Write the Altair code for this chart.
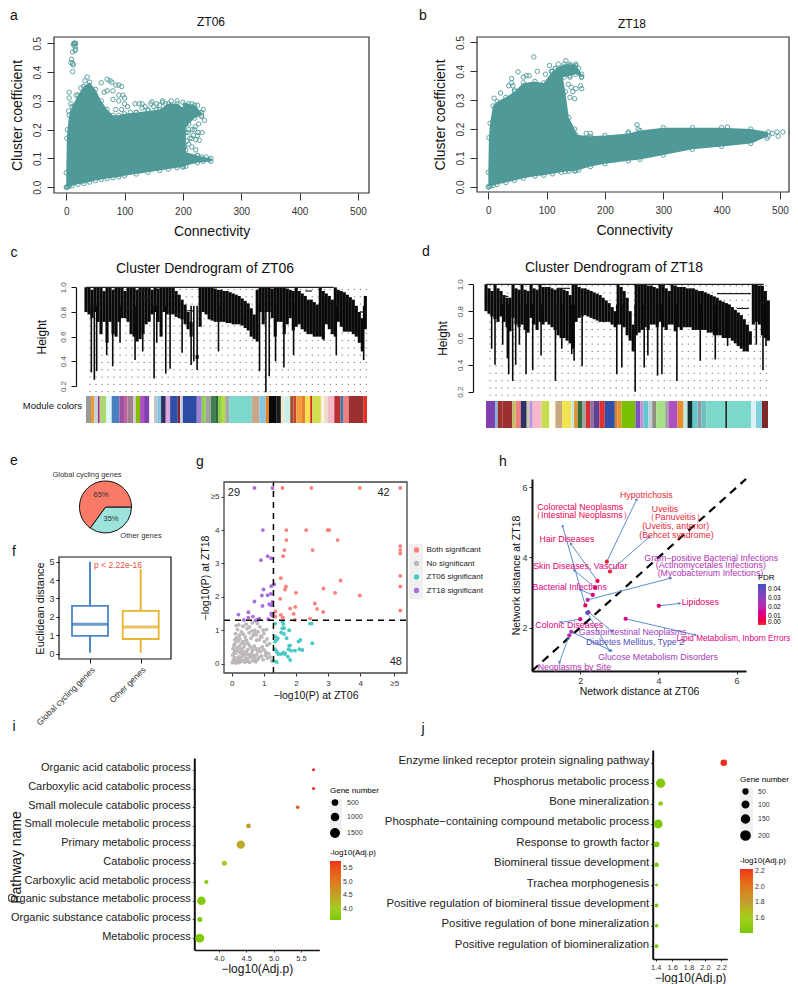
import math
import altair as alt
import pandas as pd

FONT = "Liberation Sans"
W, H = 782, 976
TEAL = "#4f9a98"
one = alt.Data(values=[{"k": 0}])

# ---------- panel a (ZT06) ----------
a_regions = {
    "main": ([0,1,2,5,10,20,30,40,50,60,70,80,90,100,120,140,160,175,190,205],
             [.05,.17,.2,.25,.28,.32,.35,.365,.34,.3,.27,.25,.25,.255,.26,.265,.27,.29,.29,.27],
             [0,0,.002,.003,.005,.01,.013,.018,.023,.027,.03,.033,.036,.04,.046,.052,.058,.063,.068,.073]),
    "blob": ([200,210,220,232], [.295,.29,.285,.26], [.19,.22,.24,.25]),
    "band": ([200,225,248], [.125,.11,.1], [.073,.085,.09]),
}
a_x = [13,14,15,16,12,15,16,15,11,9,11,8,12,11,5,5,8,4,17,25,32,36,60,70,75,78,85,90,95,65,70,80,90,97,100,80,90,100,105,95,85,118,125,130,147,165,180,190,215,225,235,237,232,227,233,225,222,228,215,205,200,195,190,185,210,220,245,240,232,225,235,200,215,
       205,210,215,218,222,212,207,203,209,216,221,226,190,195,200,150,155,160,165,170,175,180,140,130,120,110,135,145,155]
a_y = [.5,.5,.5,.5,.495,.49,.48,.475,.47,.445,.43,.433,.425,.402,.33,.31,.29,.265,.32,.345,.37,.383,.363,.375,.37,.365,.355,.355,.35,.33,.335,.335,.32,.32,.31,.305,.3,.29,.28,.27,.27,.29,.29,.29,.297,.3,.3,.3,.29,.285,.27,.232,.245,.22,.19,.18,.165,.163,.17,.19,.16,.15,.14,.17,.2,.2,.095,.105,.105,.11,.09,.07,.1,
       .13,.15,.14,.18,.13,.17,.16,.14,.19,.2,.21,.19,.28,.27,.26,.28,.29,.285,.295,.29,.28,.285,.27,.275,.26,.26,.28,.29,.27]

# ---------- panel b (ZT18) ----------
b_regions = {
    "main": ([0,1,3,8,15,30,45,60,80,95,110,125,132,138,148,155],
             [.05,.17,.22,.28,.295,.31,.33,.36,.365,.36,.4,.41,.33,.24,.2,.17],
             [0,0,.002,.004,.008,.015,.022,.03,.037,.04,.045,.05,.053,.054,.055,.058]),
    "band": ([150,175,200,240,260,300,350,400,450,480],
             [.18,.175,.178,.185,.195,.205,.205,.205,.2,.19],
             [.056,.07,.08,.09,.095,.11,.13,.14,.15,.175]),
    "top": ([115,130,140,150,160], [.41,.425,.425,.425,.39], [.37,.38,.385,.39,.38]),
}
b_x = [78,51,84,70,65,60,40,40,35,10,21,42,45,105,120,133,115,98,108,130,140,150,155,160,158,150,145,137,148,160,142,140,130,140,255,257,240,168,175,505,497,495,478,487,520,455,418,430,410]
b_y = [.45,.398,.4,.385,.385,.38,.375,.36,.35,.307,.325,.35,.335,.42,.425,.437,.41,.39,.4,.41,.42,.42,.41,.38,.35,.34,.33,.355,.305,.34,.345,.31,.28,.38,.215,.2,.19,.185,.185,.19,.175,.19,.168,.185,.187,.163,.153,.165,.207]

# ---------- dendrograms ----------
c_top = [1,1,.98,1,1,1,.97,1,1,.98,1,1,1,.97,1,1,1,.98,1,1,1,1,.98,1,.99,1,1,1,1,
         1,.97,.94,.9,.86,.8,.72,.55,.42,
         1,1,1,1,1,.99,.98,.98,.97,.97,.96,.95,.94,.93,.91,.89,.87,.83,.78,
         .98,1,1,1,1,.99,1,1,1,1,.99,.98,.97,1,.97,.95,.93,.9,.9,.88,.86,1,.97,.95,.93,.9,1,.98,.97,.96,.94,.92,.9,.85,.8,.75,.93]
c_base = [.8,.78,.75,.8,.72,.62,.72,.55,.72,.62,.6,.72,.75,.75,.72,.62,.6,.56,.58,.62,.7,.72,.78,.8,.72,.6,.8,.78,.78,
          .78,.76,.75,.74,.7,.66,.6,.55,.45,
          .68,.8,.78,.74,.73,.72,.72,.72,.72,.71,.71,.7,.7,.7,.69,.67,.65,.6,.58,
          .56,.8,.7,.8,.8,.75,.6,.72,.72,.62,.7,.75,.65,.68,.7,.66,.64,.62,.62,.6,.6,.6,.58,.7,.66,.62,.6,.72,.68,.64,.64,.64,.62,.6,.55,.48,.66]
c_spike_x = [16,25,32,62,80,102,147,170,204,212,239,252,288,315,323,333,397,520,539,549,568,593,622,750,832,712]
c_spike_y = [.31,.25,.32,.45,.36,.55,.41,.48,.26,.55,.3,.34,.47,.37,.4,.33,.48,.32,.15,.28,.4,.35,.45,.45,.41,.57]
c_link_x = [0,147,147,302,657,822]
c_link_x2 = [742,177,192,320,677,842]
c_link_y = [1.0,.97,.92,.81,.97,.8]

d_top = [1,.97,.95,1,.97,.95,.92,.9,.9,1,.97,.96,1,.96,.95,1,.97,.96,1,.98,.98,.98,.97,.96,.97,.97,.96,.95,.92,1,
         1,.98,.97,.97,.96,.95,.94,.93,.92,.9,.88,.86,.83,.8,
         1,.98,.95,.9,.8,.7,1,1,1,1,.99,.99,.98,.97,1,1,.97,.95,1,.99,.98,.98,.98,.97,.97,.97,.96,.95,.95,.94,.93,.92,.91,.9,.88,.87,.86,.85,.83,.81,.79,.77,.74,.7,.65,1,1,.99,.99,.95,.88]
d_base = [.8,.78,.76,.74,.72,.76,.72,.68,.65,.75,.7,.68,.7,.66,.64,.75,.7,.66,.72,.7,.72,.7,.68,.66,.62,.6,.6,.58,.56,.52,
          .72,.75,.76,.77,.76,.75,.74,.73,.72,.72,.72,.72,.7,.68,
          .7,.7,.68,.62,.58,.5,.62,.64,.66,.68,.66,.7,.7,.68,.72,.68,.66,.7,.7,.65,.68,.66,.68,.68,.68,.66,.66,.66,.66,.66,.64,.64,.62,.62,.62,.6,.6,.6,.58,.56,.54,.52,.5,.5,.55,.7,.72,.7,.62,.6,.58]
d_spike_x = [17,27,50,64,68,80,89,100,120,140,165,208,227,257,264,288,392,407,447,474,485,514,527,572,642,687,724,810,830,839]
d_spike_y = [.52,.4,.55,.45,.33,.28,.4,.55,.33,.36,.47,.28,.52,.48,.43,.39,.33,.38,.2,.38,.47,.32,.33,.28,.43,.44,.54,.55,.36,.54]
d_link_x = [0,27,102,212,692,752]
d_link_x2 = [832,67,122,252,794,787]
d_link_y = [1.0,.91,.95,.97,.93,.82]

c_seg_w = [15,9,12,5,19,17,23,14,10,18,7,13,12,16,14,10,11,14,13,23,7,8,42,15,12,15,13,10,10,10,12,68,23,18,10,22,14,10,18,10,8,17,10,15,6,26,10,10,20,18,10,15,45,10]
c_seg_c = ["#9a9a9a","#f29a2e","#c8d0d8","#a020a0","#b0d870","#e0f8f8","#4a80c0","#a050a0","#c060a0","#a08090","#d8c8d8","#80c000","#b050c0","#8040b0","#fffff0","#c0c0d0","#80c8e0","#303060","#e0a8d8","#3050a8","#802830","#c8d0e0","#2c4ba5","#a080d0","#90d050","#a0a0a0","#408050","#2a6a3a","#90d040","#b0e040","#a8a8a8","#7dd8cc","#c8a888","#80c8e8","#e88020","#080808","#1a1a1a","#f0e8c8","#c8f0e8","#a05030","#d04030","#f0a040","#e88030","#f5e050","#e02020","#d0e050","#fff0e0","#e8e0c0","#f5b8c8","#b83030","#5070a0","#f07f7f","#9c3030","#e63020"]
d_seg_w = [27,8,15,29,10,15,18,8,10,26,24,18,20,28,8,11,13,11,13,10,18,16,30,8,12,42,14,10,14,12,12,27,10,27,18,12,15,15,11,15,57,6,71,15,18,18]
d_seg_c = ["#8040b0","#80b8e0","#a03030","#9c3030","#c0c060","#f08080","#303068","#c8d0a0","#c090e0","#f8b8cc","#c8dc50","#fffff0","#c8a880","#f2e44f","#c0e8f0","#e89030","#307040","#a0a0a0","#d83030","#9070a0","#604090","#e03030","#3050a8","#d08030","#e89030","#78c000","#8050c0","#c090d0","#60c8d0","#c0d0d8","#909080","#a8e088","#a0a0a0","#b050c0","#e89030","#c0e8e0","#103030","#60c8d0","#909aa0","#70c0c0","#7dd8cc","#103030","#7dd8cc","#e0f0f8","#80d0e0","#802828"]

# ---------- e / f ----------
pie_names = ["Other genes", "Global cycling genes"]
pie_vals = [35, 65]
pie_cols = ["#9ce3dc", "#fa7a68"]
box_names = ["Global cycling genes", "Other genes"]
box_low = [.05, .05]
box_q1 = [.97, .8]
box_med = [1.6, 1.45]
box_q3 = [2.6, 2.33]
box_high = [5.0, 4.6]
box_col = ["#4d86c6", "#e8b432"]
box_med_col = ["#2f6db5", "#e3ab1e"]

# ---------- g ----------
g_both_x = [1.58,2.48,3.99,5.25,1.70,2.32,2.99,3.04,1.70,3.30,1.64,2.52,1.60,5.25,5.25,5.25,1.53,3.39,5.25,5.25,1.69,1.66,2.86,3.22,2.0,3.99,1.51,2.59,1.98,2.66,1.82,2.85,5.25,1.93,1.53,1.36,1.36,1.59,2.44,1.97]
g_both_y = [5.26,5.26,5.26,5.26,4.0,4.0,4.0,4.0,3.70,3.70,3.40,3.40,3.22,3.52,3.40,3.30,2.56,2.49,2.63,2.31,2.31,2.22,2.25,2.12,2.12,2.04,1.94,1.80,1.70,1.64,1.65,1.55,1.59,1.49,1.46,1.56,1.41,1.38,1.35,1.31]
g_18_x = [.71,1.27,.97,1.12,1.23,.91,1.32,1.23,.99,1.12,.94,1.22,.71,1.27,.96,1.17,1.23,.21,.52,1.23,1.28,1.25,.52,.66,.38,.76,.86,.80,1.14]
g_18_y = [5.26,5.26,4.0,3.22,3.16,3.10,2.37,2.32,2.22,2.05,2.04,2.09,1.86,1.85,1.73,1.78,1.75,1.47,1.54,1.5,1.5,1.45,1.38,1.41,1.31,1.30,1.35,1.31,1.33]
g_06_x = [1.58,1.61,1.58,1.63,1.54,1.79,1.63,1.35,1.35,1.43,1.71,1.40,1.79,1.82,2.08,2.14,2.51,2.44,2.49,1.35,1.54,1.61,1.66,1.75,1.82,1.40,1.77,1.97,1.85,2.11,2.2,1.45,1.3,1.40,1.35,1.66]
g_06_y = [1.26,1.19,1.06,1.06,.93,1.0,.89,1.2,.81,.76,.76,.71,.54,.54,.66,.71,.61,1.2,1.2,.43,.29,.33,.31,.21,.11,.36,.43,.39,.39,.43,.41,.29,.09,.05,.66,.29]
g_no_x = [.02,.05,.08,.1,.12,.14,.03,.06,.09,.13,.17,.2,.22,.24,.27,.3,.33,.36,.4,.44,.47,.5,.55,.6,.65,.7,.75,.8,.04,.07,.11,.16,.19,.23,.26,.29,.32,.35,.38,.42,.46,.5,.53,.57,.62,.68,.72,.78,.85,.92,.98,1.05,1.12,1.2,1.25,.1,.15,.2,.25,.3,.35,.4,.45,.5,.55,.6,.65,.7,.75,.8,.85,.9,.95,1.0,1.06,1.1,1.15,.12,.18,.24,.3,.36,.42,.48,.54,.6,.66,.72,.78,.86,.94,1.02,1.1,1.18,.14,.22,.35,.45,.55,.64,.72,.8,.88,.98,1.08,.62,.7,.76,.82,.9,1.0]
g_no_y = [.03,.12,.05,.18,.08,.02,.25,.3,.38,.32,.12,.06,.2,.03,.15,.08,.22,.1,.05,.17,.07,.13,.04,.2,.09,.15,.06,.12,.45,.55,.62,.48,.4,.52,.33,.44,.3,.37,.5,.28,.35,.42,.26,.22,.31,.24,.19,.27,.18,.22,.12,.25,.16,.2,.08,.72,.78,.68,.74,.6,.66,.58,.7,.62,.54,.48,.4,.52,.45,.38,.44,.36,.5,.42,.34,.55,.3,.9,1.02,.85,.95,.88,.8,1.05,.92,.76,.84,1.0,.7,.72,.8,.66,.74,.6,1.14,1.16,1.12,1.18,1.1,1.22,1.28,1.2,1.1,1.0,1.02,.98,.92,.86,.95,.82,.9]

# ---------- h ----------
h_name = ["Hypotrichosis","Uveitis","Hair Diseases","Colorectal Neoplasms","Skin Diseases, Vascular","Bacterial Infections","Gram-positive","Lipidoses","Lipid Metabolism","Colonic Diseases","Gastrointestinal Neoplasms","Diabetes Mellitus","Glucose Metabolism","Neoplasms by Site"]
h_x0 = [2.68,2.76,2.44,2.13,2.38,2.32,2.19,4.01,3.16,2.0,2.21,2.18,1.77,1.72]
h_y0 = [3.88,3.6,3.33,2.63,3.14,2.93,2.79,2.62,2.25,2.24,2.44,2.42,1.88,1.78]
h_x1 = [3.44,3.76,1.76,1.55,1.85,2.0,4.31,4.54,4.94,1.51,2.81,2.75,2.79,1.47]
h_y1 = [5.65,4.58,4.39,4.89,3.63,3.08,3.41,2.69,1.79,2.15,1.90,1.34,1.34,1.01]
h_fdr = [.001,.002,.006,.005,.01,.012,.022,.008,.012,.012,.028,.042,.026,.022]
h_lab = ["Hypotrichosis","Colorectal Neoplasms","（Intestinal Neoplasms）","Uveitis","（Panuveitis）","(Uveitis, anterior)","(Behcet syndrome)","Hair Diseases","Skin Diseases, Vascular","Gram\u2212positive Bacterial Infections","(Actinomycetales Infections)","(Mycobacterium Infections)","Bacterial Infections","Lipidoses","Colonic Diseases","Gastrointestinal Neoplasms","Lipid Metabolism, Inborn Errors","Diabetes Mellitus, Type 2","Glucose Metabolism Disorders","Neoplasms by Site"]
h_lab_x = [3.69,2.0,2.04,4.17,4.43,4.44,4.46,1.66,2.0,5.35,5.34,5.33,1.73,5.07,1.72,3.34,5.92,3.40,3.99,1.85]
h_lab_y = [5.79,5.44,5.21,5.38,5.15,4.90,4.65,4.54,3.77,3.99,3.78,3.57,3.16,2.73,2.08,1.87,1.66,1.58,1.17,.86]
h_lab_f = [.001,.005,.005,.002,.002,.002,.002,.006,.01,.022,.022,.022,.012,.008,.012,.028,.012,.042,.026,.022]
h_lab_s = [8.8,8.8,8.8,8.8,8.8,8.8,8.8,8.8,8.8,8.8,8.8,8.8,8.8,8.8,8.8,8.8,8.2,8.8,8.8,8.8]

# ---------- i / j ----------
i_path = ["Organic acid catabolic process","Carboxylic acid catabolic process","Small molecule catabolic process","Small molecule metabolic process","Primary metabolic process","Catabolic process","Carboxylic acid metabolic process","Organic substance metabolic process","Organic substance catabolic process","Metabolic process"]
i_p = [5.73,5.73,5.44,4.54,4.40,4.10,3.77,3.68,3.65,3.65]
i_gene = [90,100,170,380,1500,450,280,1550,450,1700]
j_path = ["Enzyme linked receptor protein signaling pathway","Phosphorus metabolic process","Bone mineralization","Phosphate\u2212containing compound metabolic process","Response to growth factor","Biomineral tissue development","Trachea morphogenesis","Positive regulation of biomineral tissue development","Positive regulation of bone mineralization","Positive regulation of biomineralization"]
j_p = [2.23,1.46,1.46,1.43,1.41,1.41,1.41,1.41,1.41,1.41]
j_gene = [100,210,45,190,75,45,15,30,25,30]


def vx(v):
    return v - 8


def S(dom, rng, **k):
    return alt.Scale(domain=list(dom), range=[vx(r) for r in rng], nice=False, zero=False, **k)


def bottom(y, **k):
    base = dict(orient="bottom", offset=vx(y) - H, grid=False, labelColor="#333", tickColor="#333", titleColor="#111", titleFontWeight="normal", labelFont=FONT, titleFont=FONT)
    base.update(k)
    return alt.Axis(**base)


def left(x, **k):
    base = dict(orient="left", offset=-vx(x), grid=False, labelColor="#333", tickColor="#333", titleColor="#111", titleFontWeight="normal", labelFont=FONT, titleFont=FONT, labelLimit=400)
    base.update(k)
    return alt.Axis(**base)


def text(s, x, y, size=10, color="#111", align="center", angle=0, **k):
    return alt.Chart(one).mark_text(text=s, fontSize=size, color=color, align=align, baseline="middle", font=FONT, angle=angle, **k).encode(x=alt.value(vx(x)), y=alt.value(vx(y)))


def box(x0, x1, y0, y1, stroke="#333", sw=1.2, fill=None):
    kw = dict(stroke=stroke, strokeWidth=sw) if stroke else {}
    if fill:
        kw["fill"] = fill
    else:
        kw["fillOpacity"] = 0
    return alt.Chart(one).mark_rect(**kw).encode(x=alt.value(vx(x0)), x2=alt.value(vx(x1)), y=alt.value(vx(y0)), y2=alt.value(vx(y1)))


def cloud(regions, ex, ey, sx, sy, xaxis, yaxis):
    rows, pts = [], []
    for name, (xs, up, lo) in regions.items():
        for x, u, l in zip(xs, up, lo):
            rows.append({"g": name, "x": x, "u": u, "l": l})
            pts.append({"x": x, "y": u})
            pts.append({"x": x, "y": l})
    pts += [{"x": x, "y": y} for x, y in zip(ex, ey)]
    area = alt.Chart(pd.DataFrame(rows)).mark_area(color=TEAL, opacity=1).encode(
        x=alt.X("x:Q", scale=sx, axis=xaxis), y=alt.Y("u:Q", scale=sy, axis=yaxis), y2="l:Q", detail="g:N")
    circ = alt.Chart(pd.DataFrame(pts)).mark_point(color=TEAL, size=20, strokeWidth=.9, opacity=1).encode(
        x=alt.X("x:Q", scale=sx, axis=None), y=alt.Y("y:Q", scale=sy, axis=None))
    return [area, circ]


def ax_ab(y, title_pad=8):
    return bottom(y, values=[0,100,200,300,400,500], title="Connectivity", titleFontSize=14, labelFontSize=10, domain=False, tickSize=7, labelPadding=6, titlePadding=title_pad, labelFlush=False)


def ay_ab(x):
    return left(x, values=[0,.1,.2,.3,.4,.5], format=".1f", title="Cluster coefficient", titleFontSize=14, labelFontSize=10, labelAngle=270, labelAlign="center", labelBaseline="bottom", domain=False, tickSize=7, labelPadding=5, titlePadding=8)


panel_a = cloud(a_regions, a_x, a_y, S([-21,519],[54,369]), S([-.02,.522],[193,37]), ax_ab(193), ay_ab(54))
panel_b = cloud(b_regions, b_x, b_y, S([-19.4,519],[477,791]), S([-.018,.519],[192,37]), ax_ab(192), ay_ab(477))


def dendro(top, base, spx, spy, lx, lx2, ly, dom_w, xr, yr, axis_x, title_x_pad, dot_low):
    sx = S([0, dom_w], xr)
    sy = S([.2, 1], yr)
    df = pd.DataFrame({"x": [i * 9 for i in range(min(len(top), len(base)))],
                       "t": top[:min(len(top), len(base))], "b": base[:min(len(top), len(base))]})
    dots = pd.DataFrame({"x": list(range(12, dom_w, 18))})
    dots["t"] = 1.0
    dots["b"] = dot_low
    return [
        alt.Chart(dots).mark_rule(color="#555", strokeWidth=1, strokeDash=[1, 6.3]).encode(
            x=alt.X("x:Q", scale=sx, axis=None),
            y=alt.Y("b:Q", scale=sy, axis=left(axis_x, values=[.2,.4,.6,.8,1.0], format=".1f", title="Height", titleFontSize=12, labelFontSize=8, labelColor="#555", labelAngle=270, labelAlign="center", labelBaseline="bottom", tickSize=5, tickColor="#111", domainColor="#111", domainWidth=1.2, labelPadding=4, titlePadding=title_x_pad)),
            y2="t:Q"),
        alt.Chart(df).mark_rule(color="#0a0a0a", strokeWidth=3.1).encode(
            x=alt.X("x:Q", scale=sx, axis=None), y=alt.Y("t:Q", scale=sy, axis=None), y2="b:Q"),
        alt.Chart(pd.DataFrame({"x": spx, "b": spy, "t": [.85] * len(spx)})).mark_rule(color="#0a0a0a", strokeWidth=1.6).encode(
            x=alt.X("x:Q", scale=sx, axis=None), y=alt.Y("t:Q", scale=sy, axis=None), y2="b:Q"),
        alt.Chart(pd.DataFrame({"x": lx, "x2": lx2, "y": ly})).mark_rule(color="#222", strokeWidth=1.2).encode(
            x=alt.X("x:Q", scale=sx, axis=None), x2="x2:Q", y=alt.Y("y:Q", scale=sy, axis=None)),
    ]


def colorbar(widths, cols, dom_w, xr, y0, y1):
    pos, rows = 0, []
    for w, c in zip(widths, cols):
        rows.append({"a": pos, "b": pos + w, "c": c})
        pos += w
    return alt.Chart(pd.DataFrame(rows)).mark_rect().encode(
        x=alt.X("a:Q", scale=S([0, dom_w], xr), axis=None), x2="b:Q",
        y=alt.value(vx(y0)), y2=alt.value(vx(y1)), color=alt.Color("c:N", scale=None))


panel_c = dendro(c_top, c_base, c_spike_x, c_spike_y, c_link_x, c_link_x2, c_link_y, 842, [86,367], [386,287.3], 76, 11, .15)
panel_d = dendro(d_top, d_base, d_spike_x, d_spike_y, d_link_x, d_link_x2, d_link_y, 845, [486,768], [391.7,284.3], 473, 7, .17)
bar_c = colorbar(c_seg_w, c_seg_c, 842, [86,367], 396, 423)
bar_d = colorbar(d_seg_w, d_seg_c, 845, [486,768], 401, 428)

# pie
pie = alt.Chart(pd.DataFrame({"n": pie_names, "v": pie_vals, "c": pie_cols, "o": [0, 1]})).mark_arc(outerRadius=26, stroke="#111", strokeWidth=1).encode(
    theta=alt.Theta("v:Q", stack=True, scale=alt.Scale(domain=[0, 100], range=[math.pi / 2, math.pi / 2 + 2 * math.pi])),
    order=alt.Order("o:Q"), color=alt.Color("c:N", scale=None),
    x=alt.value(vx(105.5)), y=alt.value(vx(507)))

# box
fdf = pd.DataFrame({"k": box_names, "lo": box_low, "q1": box_q1, "m": box_med, "q3": box_q3, "hi": box_high, "c": box_col, "mc": box_med_col})
fx = alt.Scale(type="point", padding=0, domain=box_names, range=[vx(90), vx(140.7)])
fy = S([-.288, 5.255], [659, 557])
panel_f = [
    alt.Chart(fdf).mark_rule(strokeWidth=2).encode(
        x=alt.X("k:N", scale=fx, sort=box_names, axis=bottom(659, title=None, labelFontSize=8.5, labelAngle=315, labelAlign="right", labelBaseline="top", tickSize=4, domain=False, labelPadding=2, tickColor="#111")),
        y=alt.Y("lo:Q", scale=fy, axis=left(59, values=[0,1,2,3,4,5], title="Euclidean distance", titleFontSize=11, labelFontSize=9, tickSize=3, domain=False, tickColor="#111", labelPadding=2, titlePadding=3)),
        y2="hi:Q", color=alt.Color("c:N", scale=None)),
    alt.Chart(fdf).mark_bar(size=36, fill="white", strokeWidth=1.8).encode(
        x=alt.X("k:N", scale=fx, sort=box_names, axis=None),
        y=alt.Y("q1:Q", scale=fy, axis=None), y2="q3:Q", stroke=alt.Stroke("c:N", scale=None)),
    alt.Chart(fdf).mark_tick(size=36, thickness=3, orient="horizontal").encode(
        x=alt.X("k:N", scale=fx, sort=box_names, axis=None),
        y=alt.Y("m:Q", scale=fy, axis=None), color=alt.Color("mc:N", scale=None)),
]

# g
g_rows = ([{"x": x, "y": y, "g": "No significant"} for x, y in zip(g_no_x, g_no_y)] +
          [{"x": x, "y": y, "g": "ZT18 significant"} for x, y in zip(g_18_x, g_18_y)] +
          [{"x": x, "y": y, "g": "ZT06 significant"} for x, y in zip(g_06_x, g_06_y)] +
          [{"x": x, "y": y, "g": "Both significant"} for x, y in zip(g_both_x, g_both_y)])
gx = S([-.24, 5.46], [224, 407])
gy = S([-.28, 5.44], [673, 482])
g_label = "datum.value >= 5 ? '\u22655' : datum.label"
panel_g = [
    alt.Chart(pd.DataFrame(g_rows)).mark_circle(size=15, opacity=1).encode(
        x=alt.X("x:Q", scale=gx, axis=bottom(673, values=[0,1,2,3,4,5.06], labelExpr=g_label, title="\u2212log10(P) at ZT06", titleFontSize=10.5, labelFontSize=8, tickSize=3, domain=False, labelPadding=3, titlePadding=3)),
        y=alt.Y("y:Q", scale=gy, axis=left(224, values=[0,1,2,3,4,5], labelExpr=g_label, title="\u2212log10(P) at ZT18", titleFontSize=10.5, labelFontSize=8, tickSize=3, domain=False, labelPadding=2, titlePadding=0)),
        color=alt.Color("g:N", scale=alt.Scale(domain=["Both significant","No significant","ZT06 significant","ZT18 significant"], range=["#fb7f7a","#bdb9b9","#47c9c4","#a96fdc"]),
                        legend=alt.Legend(orient="none", legendX=vx(412.5), legendY=vx(546), title=None, labelFontSize=8, labelFont=FONT, labelColor="#222", symbolSize=28, symbolType="circle", rowPadding=5.5, labelOffset=6))),
    alt.Chart(pd.DataFrame({"x": [1.3], "a": [-.28], "b": [5.44]})).mark_rule(color="black", strokeWidth=1.5, strokeDash=[6, 5]).encode(
        x=alt.X("x:Q", scale=gx, axis=None), y=alt.Y("a:Q", scale=gy, axis=None), y2="b:Q"),
    alt.Chart(pd.DataFrame({"y": [1.3], "a": [-.24], "b": [5.46]})).mark_rule(color="black", strokeWidth=1.5, strokeDash=[6, 5]).encode(
        y=alt.Y("y:Q", scale=gy, axis=None), x=alt.X("a:Q", scale=gx, axis=None), x2="b:Q"),
    alt.Chart(pd.DataFrame({"x": [.07, 4.73, 5.11], "y": [5.12, 5.1, .04], "t": ["29", "42", "48"]})).mark_text(fontSize=11, font=FONT, color="#222").encode(
        x=alt.X("x:Q", scale=gx, axis=None), y=alt.Y("y:Q", scale=gy, axis=None), text="t:N"),
]

# h
hx = S([.766, 6.24], [532, 746])
hy = S([.76, 6.24], [671, 479])
fdr_scale = alt.Scale(domain=[0, .02, .045], range=["#e8302a", "#b82cb0", "#3f50c0"])
h_df = pd.DataFrame({"n": h_name, "x0": h_x0, "y0": h_y0, "x1": h_x1, "y1": h_y1, "f": h_fdr})
h_df["ang"] = [(math.degrees(math.atan2((a - c) * 39.1, (b - d) * 35))) % 360 for a, b, c, d in zip(h_x1, h_y1, h_x0, h_y0)]
lab_df = pd.DataFrame({"t": h_lab, "x": h_lab_x, "y": h_lab_y, "f": h_lab_f, "s": h_lab_s})
panel_h = [
    alt.Chart(pd.DataFrame({"a": [.766], "b": [6.24]})).mark_rule(color="black", strokeWidth=2.2, strokeDash=[8, 6]).encode(
        x=alt.X("a:Q", scale=hx, axis=bottom(671, values=[2,4,6], title="Network distance at ZT06", titleFontSize=10.5, labelFontSize=9, tickSize=3, domainColor="#111", domainWidth=2, labelPadding=2, titlePadding=1.5)),
        x2="b:Q",
        y=alt.Y("a:Q", scale=hy, axis=left(532, values=[2,4,6], title="Network distance at ZT18", titleFontSize=10.5, labelFontSize=9, tickSize=3, domainColor="#111", domainWidth=2, labelPadding=2, titlePadding=0)),
        y2="b:Q"),
    alt.Chart(h_df).mark_rule(color="#5b8fd0", strokeWidth=1).encode(
        x=alt.X("x0:Q", scale=hx, axis=None), x2="x1:Q", y=alt.Y("y0:Q", scale=hy, axis=None), y2="y1:Q"),
    alt.Chart(h_df).mark_point(shape="triangle", filled=True, size=10, color="#4a7fc8", opacity=1).encode(
        x=alt.X("x1:Q", scale=hx, axis=None), y=alt.Y("y1:Q", scale=hy, axis=None), angle=alt.Angle("ang:Q", scale=None)),
    alt.Chart(h_df).mark_circle(size=18, opacity=1).encode(
        x=alt.X("x0:Q", scale=hx, axis=None), y=alt.Y("y0:Q", scale=hy, axis=None),
        color=alt.Color("f:Q", scale=fdr_scale, legend=alt.Legend(orient="none", legendX=vx(758), legendY=vx(574), title="FDR", titleFontSize=8, titleFontWeight="normal", titleFont=FONT, titlePadding=2, labelFontSize=6.5, labelFont=FONT, gradientLength=41, gradientThickness=8, values=[0,.01,.02,.03,.04], format=".2f", labelOverlap=False))),
    alt.Chart(lab_df).mark_text(font=FONT).encode(
        x=alt.X("x:Q", scale=hx, axis=None), y=alt.Y("y:Q", scale=hy, axis=None), text="t:N",
        size=alt.Size("s:Q", scale=None),
        color=alt.Color("f:Q", scale=fdr_scale, legend=None)),
]


def bubble(path, p, gene, xr, xdom, yr, ybot, xleft, xvals, sdom, srng, svals, cdom, crng, cvals, lx, ly, clx, cly, clen, cth, ctitle_size, ytitle, xtitle_pad, lab_size, ykw, row_pad):
    df = pd.DataFrame({"n": path, "p": p, "g": gene})
    return alt.Chart(df).mark_circle(opacity=1).encode(
        x=alt.X("p:Q", scale=S(xdom, xr), axis=bottom(ybot, values=xvals, format=".1f", title="\u2212log10(Adj.p)", titleFontSize=12, labelFontSize=7.5, tickSize=2, domainColor="#111", domainWidth=1.5, labelPadding=2, titlePadding=xtitle_pad)),
        y=alt.Y("n:N", sort=path, scale=alt.Scale(type="point", padding=.63, range=[vx(yr[0]), vx(yr[1])], domain=path),
                axis=left(xleft, title=ytitle, titleFontSize=14, labelFontSize=lab_size, labelColor="#222", labelOffset=-2, tickSize=2, domainColor="#111", domainWidth=2, labelPadding=2, **ykw)),
        size=alt.Size("g:Q", scale=alt.Scale(domain=sdom, range=srng, zero=False),
                      legend=alt.Legend(orient="none", legendX=vx(lx), legendY=vx(ly), title="Gene number", titleFontSize=8, titleFontWeight="normal", titleFont=FONT, titlePadding=4, labelFontSize=7, labelFont=FONT, labelColor="#333", values=svals, format="d", symbolFillColor="black", symbolStrokeColor="black", symbolOpacity=1, symbolType="circle", rowPadding=row_pad, labelOffset=7)),
        color=alt.Color("p:Q", scale=alt.Scale(domain=cdom, range=crng),
                        legend=alt.Legend(orient="none", legendX=vx(clx), legendY=vx(cly), title="-log10(Adj.p)", titleFontSize=ctitle_size, titleFontWeight="normal", titleFont=FONT, titlePadding=4, labelFontSize=7, labelFont=FONT, labelColor="#333", gradientLength=clen, gradientThickness=cth, values=cvals, format=".1f", labelOverlap=False)),
    )


GRAD = ["#7bc800", "#a0d020", "#c0a030", "#e07820", "#f0301a"]
panel_i = bubble(i_path, i_p, i_gene, [194.3,319.3], [3.55,5.835], [758,950], 950, 194.3, [4,4.5,5,5.5],
                 [0,2000], [6,92], [500,1000,1500], [3.6,4,4.5,5,5.75], GRAD, [4,4.5,5,5.5],
                 330, 787, 330, 849, 59, 11, 8, "Pathway name", 2, 11, dict(titleX=-171, titleY=vx(857)), 1.5)
panel_j = bubble(j_path, j_p, j_gene, [652.7,727.3], [1.363,2.273], [750,959], 959, 652.7, [1.4,1.6,1.8,2.0,2.2],
                 [0,250], [2.5,103.75], [50,100,150,200], [1.41,1.6,1.8,2.0,2.225], GRAD, [1.6,1.8,2.0,2.2],
                 740, 776, 740, 857, 64, 13, 8, None, 2, 11.4, {}, 1)

letters = [("a",14,16),("b",423,16),("c",14,253),("d",426,252),("e",14,461),("f",14,552),("g",200,462),("h",503,462),("i",14,727),("j",423,729)]

layers = (
    panel_a + [box(54,369,37,193), text("ZT06",211,22,12)] +
    panel_b + [box(477,789,37,192), text("ZT18",632,24,12)] +
    panel_c + [bar_c, text("Cluster Dendrogram of ZT06",205,269,14), text("Module colors",82,406,9.5,align="right")] +
    panel_d + [bar_d, text("Cluster Dendrogram of ZT18",614,268,14)] +
    [pie, text("Global cycling genes",87,474.5,7.5,color="#333"), text("65%",101,495,7.5,color="#333"), text("35%",111,519,7.5,color="#333"), text("Other genes",141,536,7.5,color="#333")] +
    panel_f + [box(59,171,557,659,stroke="#111",sw=1.2), text("p < 2.22e-16",118,565,8.5,color="#e85040")] +
    [box(409,423,544,599,stroke=None,fill="#f0f0f0")] + panel_g + [box(224,407,482,673,stroke="#444",sw=1.3)] +
    panel_h +
    [box(330,342,799,834,stroke=None,fill="#f0f0f0"), panel_i] +
    [box(740,753,788,838,stroke=None,fill="#f0f0f0"), panel_j]
)
layers += [text(s, x, y, 14) for s, x, y in letters]

chart = alt.layer(*layers).resolve_scale(
    x="independent", y="independent", color="independent", size="independent"
).resolve_axis(x="independent", y="independent").resolve_legend(
    color="independent", size="independent"
).properties(width=W, height=H, padding=0, autosize=alt.AutoSizeParams(type="none")
).configure(font=FONT).configure_view(stroke=None)

chart.save("out.html", embed_options={"renderer": "svg", "actions": False})
